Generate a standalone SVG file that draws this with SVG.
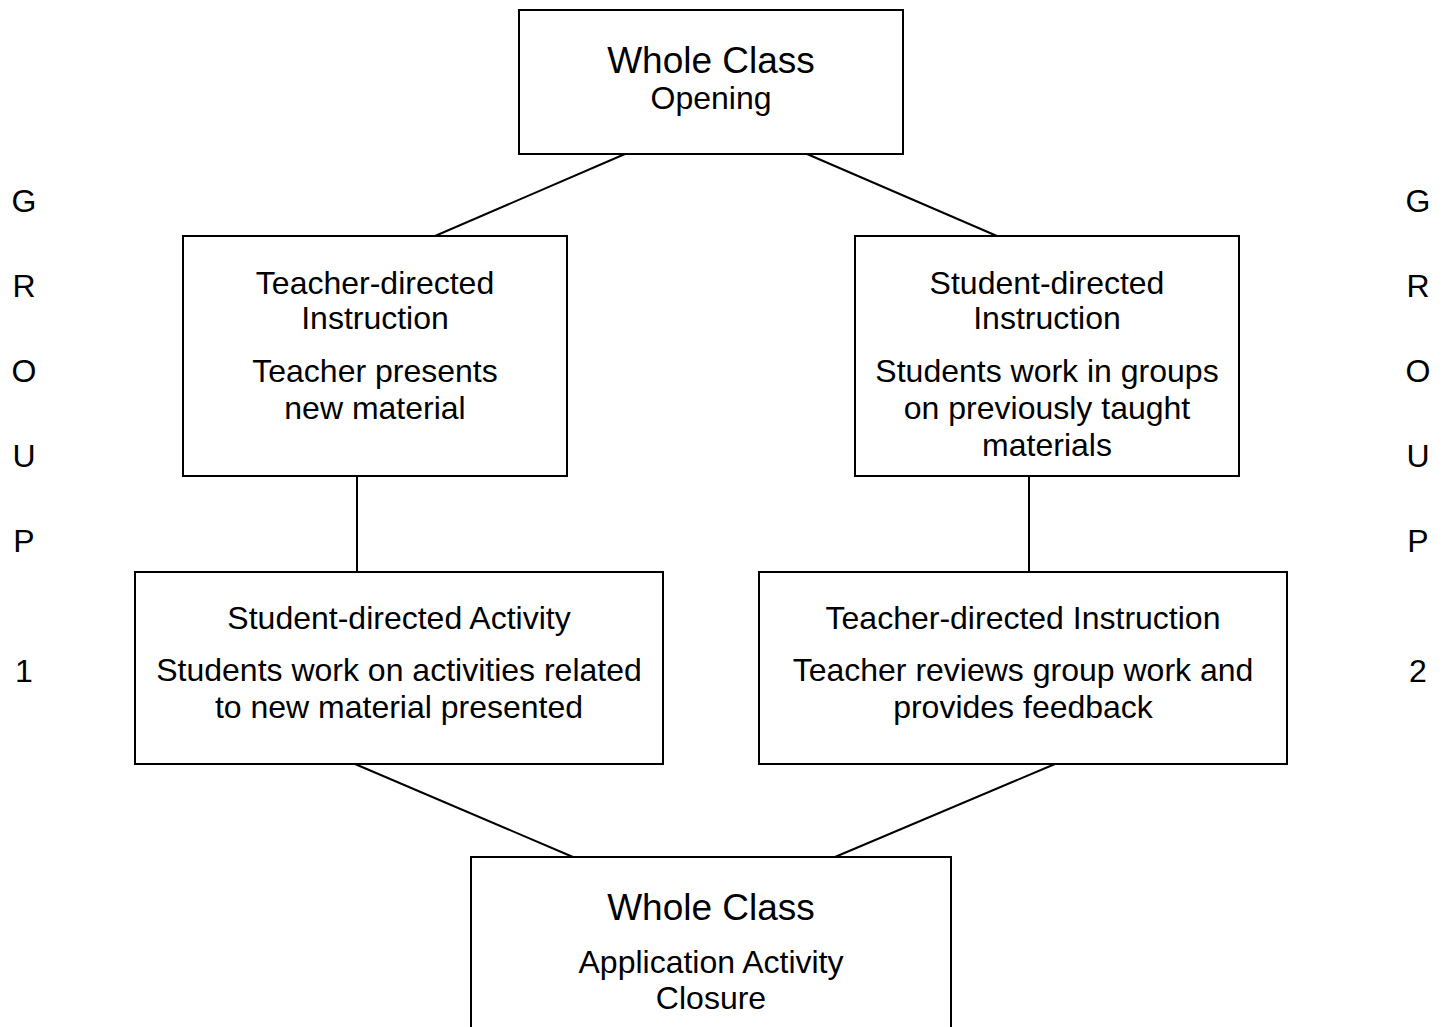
<svg xmlns="http://www.w3.org/2000/svg" width="1444" height="1027" viewBox="0 0 1444 1027">
<style>
.box{fill:#fff;stroke:#000;stroke-width:2}
.ln{stroke:#000;stroke-width:2;fill:none}
text{font-family:"Liberation Sans",Arial,sans-serif;fill:#000;text-anchor:middle}
.big{font-size:37px}
.t{font-size:32px}
</style>
<rect width="1444" height="1027" fill="#fff"/>
<g id="connectors">
<line class="ln" x1="625" y1="154" x2="435" y2="236"/>
<line class="ln" x1="807" y1="154" x2="997" y2="236"/>
<line class="ln" x1="357" y1="476" x2="357" y2="572"/>
<line class="ln" x1="1029" y1="476" x2="1029" y2="572"/>
<line class="ln" x1="355" y1="764" x2="573" y2="857"/>
<line class="ln" x1="1055" y1="764" x2="835" y2="857"/>
</g>
<g id="opening">
<rect class="box" x="519" y="10" width="384" height="144"/>
<text class="big" x="711" y="73">Whole Class</text>
<text class="t" x="711" y="109">Opening</text>
</g>
<g id="teacher-directed-1">
<rect class="box" x="183" y="236" width="384" height="240"/>
<text class="t" x="375" y="294">Teacher-directed</text>
<text class="t" x="375" y="329">Instruction</text>
<text class="t" x="375" y="382">Teacher presents</text>
<text class="t" x="375" y="419">new material</text>
</g>
<g id="student-directed-2">
<rect class="box" x="855" y="236" width="384" height="240"/>
<text class="t" x="1047" y="294">Student-directed</text>
<text class="t" x="1047" y="329">Instruction</text>
<text class="t" x="1047" y="382">Students work in groups</text>
<text class="t" x="1047" y="419">on previously taught</text>
<text class="t" x="1047" y="456">materials</text>
</g>
<g id="student-activity-1">
<rect class="box" x="135" y="572" width="528" height="192"/>
<text class="t" x="399" y="629">Student-directed Activity</text>
<text class="t" x="399" y="681">Students work on activities related</text>
<text class="t" x="399" y="718">to new material presented</text>
</g>
<g id="teacher-review-2">
<rect class="box" x="759" y="572" width="528" height="192"/>
<text class="t" x="1023" y="629">Teacher-directed Instruction</text>
<text class="t" x="1023" y="681">Teacher reviews group work and</text>
<text class="t" x="1023" y="718">provides feedback</text>
</g>
<g id="closure">
<rect class="box" x="471" y="857" width="480" height="200"/>
<text class="big" x="711" y="920">Whole Class</text>
<text class="t" x="711" y="973">Application Activity</text>
<text class="t" x="711" y="1009">Closure</text>
</g>
<g id="group1-label">
<text class="t" x="24" y="212">G</text>
<text class="t" x="24" y="297">R</text>
<text class="t" x="24" y="382">O</text>
<text class="t" x="24" y="467">U</text>
<text class="t" x="24" y="552">P</text>
<text class="t" x="24" y="682">1</text>
</g>
<g id="group2-label">
<text class="t" x="1418" y="212">G</text>
<text class="t" x="1418" y="297">R</text>
<text class="t" x="1418" y="382">O</text>
<text class="t" x="1418" y="467">U</text>
<text class="t" x="1418" y="552">P</text>
<text class="t" x="1418" y="682">2</text>
</g>
</svg>
